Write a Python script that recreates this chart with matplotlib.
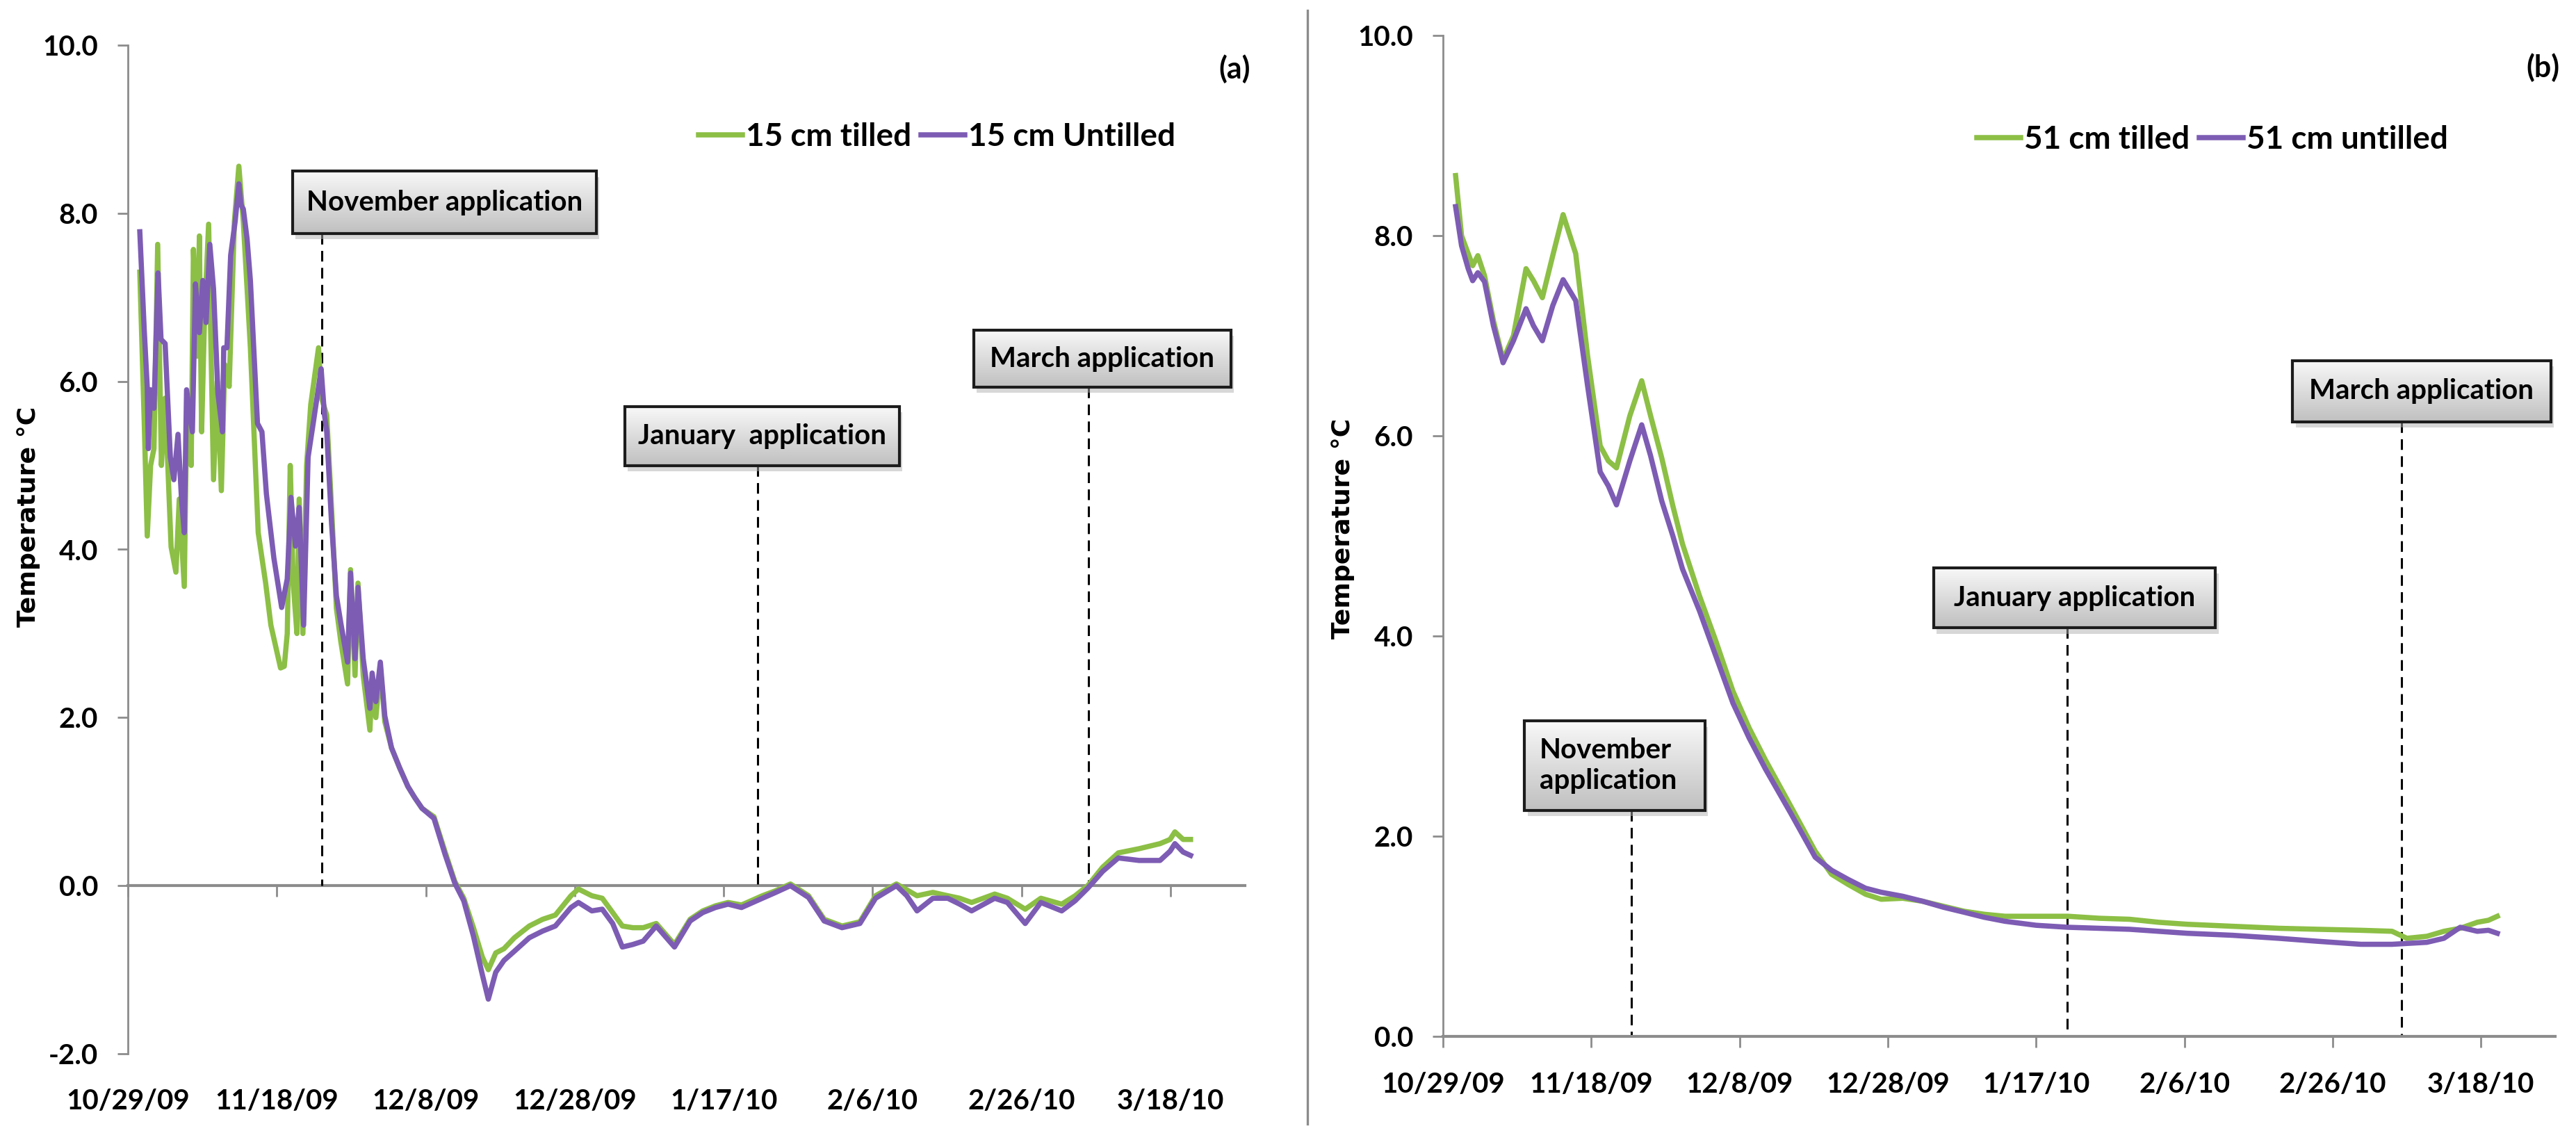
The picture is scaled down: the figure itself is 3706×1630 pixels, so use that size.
import numpy as np
import matplotlib
matplotlib.use('Agg')
import matplotlib.pyplot as plt
import matplotlib.patheffects as pe
from matplotlib.patches import Rectangle
from matplotlib.colors import LinearSegmentedColormap
from matplotlib.lines import Line2D
from matplotlib.ticker import FormatStrFormatter

plt.rcParams['font.family'] = ['Lato', 'DejaVu Sans']
plt.rcParams['font.weight'] = 'bold'

# days after 10/29/09
tick_days = [0, 20, 40, 60, 80, 100, 120, 140]
tick_labels = ['10/29/09', '11/18/09', '12/8/09', '12/28/09',
               '1/17/10', '2/6/10', '2/26/10', '3/18/10']

# (a) 15 cm depth, (day, temperature)
tilled_15 = [
    (1.6, 7.3), (2.2, 5.5), (2.6, 4.16), (3.05, 5.0), (3.5, 5.2), (4.0, 7.63),
    (4.5, 5.0), (5.0, 5.8), (5.8, 4.03), (6.45, 3.73), (6.9, 4.6), (7.57, 3.56),
    (7.9, 5.6), (8.5, 5.0), (8.8, 7.57), (9.3, 6.3), (9.6, 7.73), (9.9, 5.4),
    (10.3, 6.8), (10.84, 7.87), (11.5, 4.83), (12.0, 6.0), (12.55, 4.7), (13.0, 6.2),
    (13.6, 5.94), (14.3, 7.9), (14.9, 8.56), (15.5, 7.9), (16.45, 6.4), (17.5, 4.2),
    (18.5, 3.6), (19.2, 3.1), (20.5, 2.59), (21.0, 2.61), (21.4, 3.0), (21.8, 5.0),
    (22.2, 3.6), (22.7, 3.0), (23.0, 4.6), (23.5, 3.0), (24.0, 5.0), (24.55, 5.72),
    (25.6, 6.4), (26.0, 5.8), (26.7, 5.6), (27.4, 4.4), (28.0, 3.3), (28.6, 2.9),
    (29.5, 2.4), (29.9, 3.76), (30.5, 2.5), (30.9, 3.6), (31.6, 2.5), (32.5, 1.85),
    (32.8, 2.45), (33.3, 2.0), (33.9, 2.6), (34.5, 1.95), (35.4, 1.64), (36.5, 1.4),
    (37.6, 1.18), (38.5, 1.05), (39.5, 0.92), (41.1, 0.82), (42.6, 0.4), (43.9, 0.05),
    (45.1, -0.15), (46.4, -0.5), (47.6, -0.85), (48.4, -1.0), (49.4, -0.8), (50.5, -0.75),
    (51.9, -0.62), (53.9, -0.48), (55.7, -0.4), (57.4, -0.35), (59.5, -0.12), (60.5, -0.04),
    (62.3, -0.12), (63.7, -0.15), (65.1, -0.32), (66.4, -0.48), (67.8, -0.5), (69.2, -0.5),
    (70.95, -0.45), (73.4, -0.7), (75.5, -0.4), (77.2, -0.3), (78.9, -0.24), (80.6, -0.2),
    (82.4, -0.23), (85.2, -0.12), (87.0, -0.06), (88.97, 0.02), (91.4, -0.12), (93.5, -0.4),
    (95.9, -0.48), (98.3, -0.43), (100.4, -0.12), (103.2, 0.02), (104.6, -0.05), (105.97, -0.12),
    (108.1, -0.08), (110.1, -0.12), (111.7, -0.15), (113.3, -0.2), (116.4, -0.1), (118.1, -0.15),
    (120.5, -0.28), (122.6, -0.15), (125.4, -0.22), (127.2, -0.12), (128.9, 0.0), (130.9, 0.22),
    (133.0, 0.39), (135.8, 0.44), (138.6, 0.5), (139.95, 0.55), (140.6, 0.64), (141.7, 0.55),
    (142.7, 0.55)]

untilled_15 = [
    (1.6, 7.78), (2.2, 6.6), (2.6, 5.93), (2.75, 5.2), (3.05, 5.9), (3.5, 5.68),
    (4.05, 7.29), (4.45, 6.5), (5.0, 6.45), (5.7, 5.1), (6.17, 4.83), (6.73, 5.37),
    (7.2, 4.6), (7.57, 4.2), (7.88, 5.9), (8.66, 5.4), (9.07, 7.16), (9.6, 6.58),
    (10.06, 7.2), (10.5, 6.7), (11.0, 7.63), (11.5, 7.1), (12.1, 5.85), (12.7, 5.4),
    (12.87, 6.4), (13.3, 6.4), (13.8, 7.5), (14.4, 7.9), (14.9, 8.35), (15.2, 8.1),
    (15.5, 8.05), (16.0, 7.7), (16.45, 7.2), (17.4, 5.5), (18.0, 5.4), (18.6, 4.66),
    (19.6, 3.9), (20.65, 3.31), (21.4, 3.65), (21.9, 4.62), (22.5, 4.04), (23.0, 4.5),
    (23.6, 3.1), (24.2, 5.1), (24.9, 5.51), (25.6, 5.93), (25.95, 6.15), (26.4, 5.6),
    (26.7, 5.4), (27.35, 4.31), (28.0, 3.45), (28.6, 3.12), (29.5, 2.66), (29.9, 3.72),
    (30.5, 2.7), (30.9, 3.55), (31.6, 2.7), (32.5, 2.11), (32.8, 2.53), (33.3, 2.19),
    (33.9, 2.66), (34.5, 2.02), (35.4, 1.64), (36.5, 1.4), (37.6, 1.18), (38.5, 1.05),
    (39.5, 0.92), (41.1, 0.8), (42.6, 0.37), (43.9, 0.03), (45.1, -0.18), (46.4, -0.6),
    (47.6, -1.06), (48.4, -1.35), (49.4, -1.03), (50.5, -0.89), (51.9, -0.78), (53.9, -0.62),
    (55.7, -0.54), (57.4, -0.48), (59.5, -0.26), (60.5, -0.2), (62.3, -0.3), (63.7, -0.28),
    (65.1, -0.45), (66.4, -0.73), (67.8, -0.7), (69.2, -0.66), (70.95, -0.48), (73.4, -0.73),
    (75.5, -0.42), (77.2, -0.32), (78.9, -0.26), (80.6, -0.22), (82.4, -0.26), (85.2, -0.15),
    (87.0, -0.08), (88.97, 0.0), (91.4, -0.14), (93.5, -0.42), (95.9, -0.5), (98.3, -0.45),
    (100.4, -0.15), (103.2, 0.0), (104.6, -0.12), (105.97, -0.3), (108.1, -0.15), (110.1, -0.15),
    (111.7, -0.22), (113.3, -0.3), (116.4, -0.15), (118.1, -0.2), (120.5, -0.45), (122.6, -0.2),
    (125.4, -0.3), (127.2, -0.18), (128.9, -0.03), (130.9, 0.17), (133.0, 0.33), (135.8, 0.3),
    (138.6, 0.3), (139.95, 0.41), (140.6, 0.5), (141.7, 0.4), (142.7, 0.36)]

# (b) 51 cm depth
tilled_51 = [
    (1.7, 8.6), (2.5, 8.0), (3.4, 7.82), (4.0, 7.7), (4.7, 7.8), (5.6, 7.6),
    (6.8, 7.15), (8.1, 6.76), (9.5, 7.0), (11.2, 7.67), (12.2, 7.55), (13.4, 7.38),
    (14.8, 7.8), (16.2, 8.21), (17.9, 7.82), (19.5, 6.8), (21.2, 5.9), (22.3, 5.75),
    (23.4, 5.68), (25.2, 6.2), (26.8, 6.55), (28.0, 6.2), (29.5, 5.78), (31.0, 5.3),
    (32.3, 4.92), (34.6, 4.4), (36.8, 3.95), (39.1, 3.45), (41.3, 3.08), (43.5, 2.76),
    (46.9, 2.3), (50.2, 1.85), (52.4, 1.62), (54.6, 1.52), (57.0, 1.42), (59.1, 1.37),
    (62.0, 1.38), (64.7, 1.35), (67.5, 1.3), (70.3, 1.25), (73.0, 1.22), (75.8, 1.2),
    (80.0, 1.2), (84.3, 1.2), (88.5, 1.18), (92.6, 1.17), (96.5, 1.14), (100.4, 1.12),
    (106.5, 1.1), (112.7, 1.08), (118.0, 1.07), (123.8, 1.06), (128.0, 1.05), (130.0, 0.98),
    (132.7, 1.0), (135.0, 1.05), (137.2, 1.08), (139.5, 1.14), (141.0, 1.16), (142.2, 1.2)]

untilled_51 = [
    (1.7, 8.29), (2.5, 7.9), (3.4, 7.67), (4.0, 7.55), (4.7, 7.63), (5.6, 7.54),
    (6.8, 7.1), (8.1, 6.73), (9.5, 6.95), (11.2, 7.27), (12.2, 7.1), (13.4, 6.95),
    (14.8, 7.3), (16.2, 7.56), (17.9, 7.35), (19.5, 6.5), (21.2, 5.64), (22.3, 5.5),
    (23.4, 5.31), (25.2, 5.75), (26.8, 6.11), (28.0, 5.8), (29.5, 5.35), (31.0, 5.0),
    (32.3, 4.67), (34.6, 4.25), (36.8, 3.8), (39.1, 3.33), (41.3, 2.98), (43.5, 2.67),
    (46.9, 2.23), (50.2, 1.79), (52.4, 1.66), (54.6, 1.57), (57.0, 1.48), (59.1, 1.44),
    (62.0, 1.4), (64.7, 1.35), (67.5, 1.29), (70.3, 1.24), (73.0, 1.19), (75.8, 1.15),
    (80.0, 1.11), (84.3, 1.09), (88.5, 1.08), (92.6, 1.07), (96.5, 1.05), (100.4, 1.03),
    (106.5, 1.01), (112.7, 0.98), (118.0, 0.95), (123.8, 0.92), (128.0, 0.92), (132.7, 0.94),
    (135.0, 0.98), (137.2, 1.09), (139.5, 1.05), (141.0, 1.06), (142.2, 1.03)]

# application dates (days after 10/29/09)
apps_15 = [26.0, 84.6, 129.0]
apps_51 = [25.4, 84.2, 129.3]
app_names_15 = ['November application', 'January  application', 'March application']
app_names_51 = ['November\napplication', 'January application', 'March application']

GREEN = '#8cbf45'
PURPLE = '#7d5cb4'
GREY = '#8c8c8c'
W, H = 3706, 1630

fig = plt.figure(figsize=(W / 200, H / 200), dpi=200)
fig.patch.set_facecolor('white')

box_cmap = LinearSegmentedColormap.from_list('box', ['#f8f8f8', '#c0c0c0'])
grad = np.linspace(0, 1, 64)[:, None]


def app_box(ax, rect, text, left=False):
    x0, x1, y0, y1 = rect
    sh = Rectangle((x0, y0), x1 - x0, y1 - y0, fc='#d8d8d8', ec='none', zorder=4,
                   path_effects=[pe.SimplePatchShadow(offset=(1.5, -3), shadow_rgbFace='#b0b0b0', alpha=0.5)])
    ax.add_patch(sh)
    ax.imshow(grad, cmap=box_cmap, extent=[x0, x1, y0, y1], aspect='auto',
              interpolation='bilinear', zorder=5)
    ax.add_patch(Rectangle((x0, y0), x1 - x0, y1 - y0, fill=False, ec='#1c1c1c', lw=1.5, zorder=6))
    if left:
        ax.text(x0 + 2.0, (y0 + y1) / 2, text, ha='left', va='center', fontsize=14.5,
                linespacing=1.25, zorder=7)
    else:
        ax.text((x0 + x1) / 2, (y0 + y1) / 2, text, ha='center', va='center', fontsize=14.5, zorder=7)


def style_panel(ax, ymin):
    ax.set_xlim(0, 150)
    ax.set_ylim(ymin, 10)
    ax.set_yticks(np.arange(ymin, 10.1, 2))
    ax.yaxis.set_major_formatter(FormatStrFormatter('%.1f'))
    ax.set_facecolor('none')
    for s in ['top', 'right']:
        ax.spines[s].set_visible(False)
    ax.spines['left'].set_color(GREY)
    ax.spines['left'].set_linewidth(1.0)
    ax.tick_params(axis='y', direction='out', length=5.4, width=1, color=GREY,
                   pad=10, labelsize=14.5)
    ax.set_xticks(tick_days, tick_labels)


def draw_series(ax, tilled, untilled, lab_t, lab_u):
    d, t = np.array(tilled).T
    ax.plot(d, t, color=GREEN, lw=2.7, label=lab_t, zorder=2, solid_joinstyle='round')
    d, t = np.array(untilled).T
    ax.plot(d, t, color=PURPLE, lw=2.7, label=lab_u, zorder=3, solid_joinstyle='round')


def add_legend(ax, x, y):
    ax.legend(loc='center left', bbox_to_anchor=(x / W, 1 - y / H), bbox_transform=fig.transFigure,
              ncol=2, frameon=False, fontsize=16.5, handlelength=1.37, handletextpad=0.12,
              columnspacing=0.3, borderpad=0, borderaxespad=0)


# ---------- panel (a) ----------
axL = fig.add_axes([184 / W, 1 - 1516 / H, (1791 - 184) / W, (1516 - 65) / H])
draw_series(axL, tilled_15, untilled_15, '15 cm tilled', '15 cm Untilled')
boxes_15 = [(22.1, 62.9, 7.76, 8.50), (66.7, 103.6, 5.0, 5.70), (113.6, 148.1, 5.93, 6.61)]
for day, rect, name in zip(apps_15, boxes_15, app_names_15):
    axL.plot([day, day], [rect[2], 0], color='k', lw=1.1, ls=(0, (5, 3)), zorder=1)
    app_box(axL, rect, name)
style_panel(axL, -2)
axL.spines['bottom'].set_visible(False)
axL.tick_params(axis='x', length=0, pad=18, labelsize=14.5)
zero = axL.secondary_xaxis(1 / 6)
zero.set_xticks(tick_days)
zero.tick_params(axis='x', labelbottom=False, length=5.8, width=1, color=GREY)
zero.spines['bottom'].set_color(GREY)
zero.spines['bottom'].set_linewidth(1.5)
add_legend(axL, 1005, 197)

# ---------- panel (b) ----------
axR = fig.add_axes([2076 / W, 1 - 1491 / H, (3676 - 2076) / W, (1491 - 51) / H])
draw_series(axR, tilled_51, untilled_51, '51 cm tilled', '51 cm untilled')
boxes_51 = [(11.0, 35.3, 2.26, 3.15), (66.2, 104.2, 4.08, 4.68), (114.6, 149.4, 6.14, 6.75)]
for i, (day, rect, name) in enumerate(zip(apps_51, boxes_51, app_names_51)):
    axR.plot([day, day], [rect[2], 0], color='k', lw=1.1, ls=(0, (5, 3)), zorder=1)
    app_box(axR, rect, name, left=(i == 0))
style_panel(axR, 0)
axR.spines['bottom'].set_color(GREY)
axR.spines['bottom'].set_linewidth(1.5)
axR.tick_params(axis='x', direction='out', length=5.8, width=1, color=GREY, pad=12.6, labelsize=14.5)
add_legend(axR, 2844, 201)

# labels and divider
fig.text(41 / W, 1 - 743 / H, 'Temperature °C', rotation=90, ha='center', va='center',
         family='DejaVu Sans', fontweight='bold', fontsize=13)
fig.text(1932 / W, 1 - 760 / H, 'Temperature °C', rotation=90, ha='center', va='center',
         family='DejaVu Sans', fontweight='bold', fontsize=13)
fig.text(1776 / W, 1 - 99 / H, '(a)', ha='center', va='center', fontsize=15.5)
fig.text(3658 / W, 1 - 97 / H, '(b)', ha='center', va='center', fontsize=15.5)
fig.add_artist(Line2D([1881 / W, 1881 / W], [1 - 1617 / H, 1 - 15 / H], color=GREY, lw=1.2))

fig.savefig('out.png', dpi=200, facecolor='white')
